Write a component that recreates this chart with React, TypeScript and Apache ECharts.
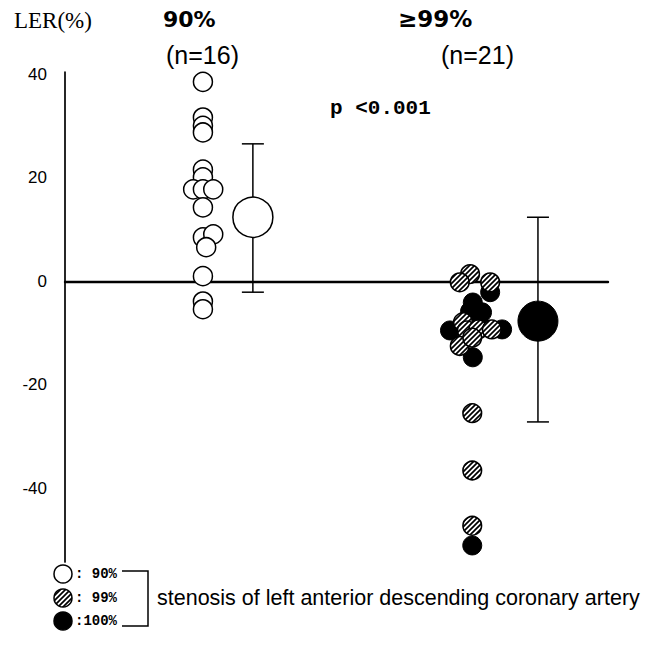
import React, { useEffect, useRef } from "react";
import * as echarts from "echarts";

const yTickLabels = [-40, -20, 0, 20, 40];
const groupLabels = ["90%", "≥99%"];
const groupCounts = ["(n=16)", "(n=21)"];
const yAxisTitle = "LER(%)";
const pValueText = "p <0.001";
const legendLabels = [": 90%", ": 99%", ":100%"];
const legendTitle = "stenosis of left anterior descending coronary artery";

// [jitter x position, LER %]
const open90: [number, number][] = [
  [2.54, 38.6], [2.54, 31.7], [2.54, 30.1], [2.54, 28.8],
  [2.54, 21.6], [2.54, 20.1], [2.36, 17.8], [2.54, 17.8], [2.73, 17.8], [2.54, 14.3],
  [2.54, 8.5], [2.73, 9.1], [2.6, 6.6], [2.54, 1.0], [2.54, -3.9], [2.54, -5.4],
];
const hatched99: [number, number][] = [
  [7.46, 1.4], [7.27, -0.2], [7.83, -0.2], [7.33, -7.9], [7.4, -9.5], [7.61, -9.3],
  [7.86, -9.3], [7.27, -12.5], [7.5, -10.9], [7.5, -25.5], [7.5, -36.6], [7.5, -47.3],
];
const black100: [number, number][] = [
  [7.83, -2.1], [7.51, -4.1], [7.68, -6.0], [7.09, -9.5], [8.05, -9.3], [7.51, -14.7],
  [7.61, -7.3], [7.46, -5.8], [7.5, -51.1],
];
// [x, mean, low, high]
const mean90: [number, number, number, number] = [3.46, 12.4, -2.1, 26.6];
const mean99: [number, number, number, number] = [8.71, -7.7, -27.2, 12.4];

const hatchSvg =
  "<svg xmlns='http://www.w3.org/2000/svg' width='5' height='5'><rect width='5' height='5' fill='white'/><path d='M-1,1 L1,-1 M0,5 L5,0 M4,6 L6,4' stroke='black' stroke-width='1.7'/></svg>";
const hatchUrl = "data:image/svg+xml;charset=utf-8," + encodeURIComponent(hatchSvg);
const hatch = (): any => ({ image: hatchUrl, repeat: "repeat", imageWidth: 5, imageHeight: 5 });

function txt(text: string, x: number, y: number, size: number, family: string, weight = "normal", align = "left") {
  return {
    type: "text",
    x,
    y,
    style: {
      text,
      fill: "#000",
      fontSize: size,
      fontFamily: family,
      fontWeight: weight,
      textAlign: align,
      align,
      textVerticalAlign: "middle",
      verticalAlign: "middle",
    },
  };
}

export default function App() {
  const ref = useRef<HTMLDivElement>(null);
  useEffect(() => {
    if (!ref.current) return;
    const chart = echarts.init(ref.current, null, { renderer: "svg" });
    const legendRows = [574, 598, 621];
    const legendFills = ["#fff", hatch(), "#000"];
    const graphic: any[] = [
      txt(yAxisTitle, 14, 20, 23, "Liberation Serif"),
      txt(groupLabels[0], 163, 19, 22, "DejaVu Sans", "bold"),
      txt(groupCounts[0], 166, 55, 25, "Liberation Sans"),
      txt(groupLabels[1], 398, 19, 23, "DejaVu Sans", "bold"),
      txt(groupCounts[1], 441, 55, 25, "Liberation Sans"),
      txt(pValueText, 330, 108, 21, "Liberation Mono", "bold"),
      txt(legendTitle, 157, 598, 21.5, "Liberation Sans"),
      {
        type: "polyline",
        shape: { points: [[122, 571], [148, 571], [148, 626], [122, 626]] },
        style: { stroke: "#000", lineWidth: 1.5, fill: null },
      },
    ];
    legendRows.forEach((y, i) => {
      graphic.push({
        type: "circle",
        shape: { cx: 63, cy: y, r: 9 },
        style: { fill: legendFills[i], stroke: "#000", lineWidth: 1.5 },
      });
      graphic.push(txt(legendLabels[i], 75, y, 14, "Liberation Mono", "bold"));
    });

    const errorBar = {
      type: "custom",
      z: 1,
      data: [mean90, mean99].map((m) => [m[0], m[1], m[2], m[3]]),
      renderItem: (_p: any, api: any) => {
        const lo = api.coord([api.value(0), api.value(2)]);
        const hi = api.coord([api.value(0), api.value(3)]);
        const hw = 11;
        const st = { stroke: "#000", lineWidth: 1.5 };
        return {
          type: "group",
          children: [
            { type: "line", shape: { x1: lo[0], y1: lo[1], x2: hi[0], y2: hi[1] }, style: st },
            { type: "line", shape: { x1: lo[0] - hw, y1: lo[1], x2: lo[0] + hw, y2: lo[1] }, style: st },
            { type: "line", shape: { x1: hi[0] - hw, y1: hi[1], x2: hi[0] + hw, y2: hi[1] }, style: st },
          ],
        };
      },
    };

    const hatchedSeries = {
      type: "custom",
      z: 4,
      data: hatched99,
      renderItem: (_p: any, api: any) => {
        const c = api.coord([api.value(0), api.value(1)]);
        return {
          type: "circle",
          shape: { cx: c[0], cy: c[1], r: 9.3 },
          style: { fill: hatch(), stroke: "#000", lineWidth: 1.6 },
        };
      },
    };

    chart.setOption({
      animation: false,
      grid: { left: 65, top: 72, width: 543, height: 490, containLabel: false },
      xAxis: {
        type: "value",
        min: 0,
        max: 10,
        axisLine: { show: true, onZero: true, lineStyle: { color: "#000", width: 2.4 } },
        axisTick: { show: false },
        axisLabel: { show: false },
        splitLine: { show: false },
      },
      yAxis: {
        type: "value",
        min: -54.3,
        max: 40.5,
        axisLine: { show: true, lineStyle: { color: "#000", width: 1.7 } },
        axisTick: { show: false },
        splitLine: { show: false },
        axisLabel: {
          customValues: yTickLabels,
          color: "#000",
          fontSize: 17,
          fontFamily: "Liberation Sans",
          margin: 18,
        },
      },
      series: [
        errorBar,
        {
          type: "scatter",
          z: 3,
          symbol: "circle",
          symbolSize: 19,
          data: open90,
          itemStyle: { color: "#fff", borderColor: "#000", borderWidth: 1.5, opacity: 1 },
          emphasis: { disabled: true },
        },
        {
          type: "scatter",
          z: 3,
          symbol: "circle",
          symbolSize: 19,
          data: black100,
          itemStyle: { color: "#000", borderColor: "#000", borderWidth: 1, opacity: 1 },
          emphasis: { disabled: true },
        },
        hatchedSeries,
        {
          type: "scatter",
          z: 5,
          symbol: "circle",
          symbolSize: 40,
          data: [[mean90[0], mean90[1]]],
          itemStyle: { color: "#fff", borderColor: "#000", borderWidth: 1.5, opacity: 1 },
          emphasis: { disabled: true },
        },
        {
          type: "scatter",
          z: 5,
          symbol: "circle",
          symbolSize: 40,
          data: [[mean99[0], mean99[1]]],
          itemStyle: { color: "#000", borderColor: "#000", borderWidth: 1, opacity: 1 },
          emphasis: { disabled: true },
        },
      ],
      graphic,
    });
    return () => chart.dispose();
  }, []);
  return <div ref={ref} style={{ width: 647, height: 661, position: "absolute", left: 0, top: 0 }} />;
}
